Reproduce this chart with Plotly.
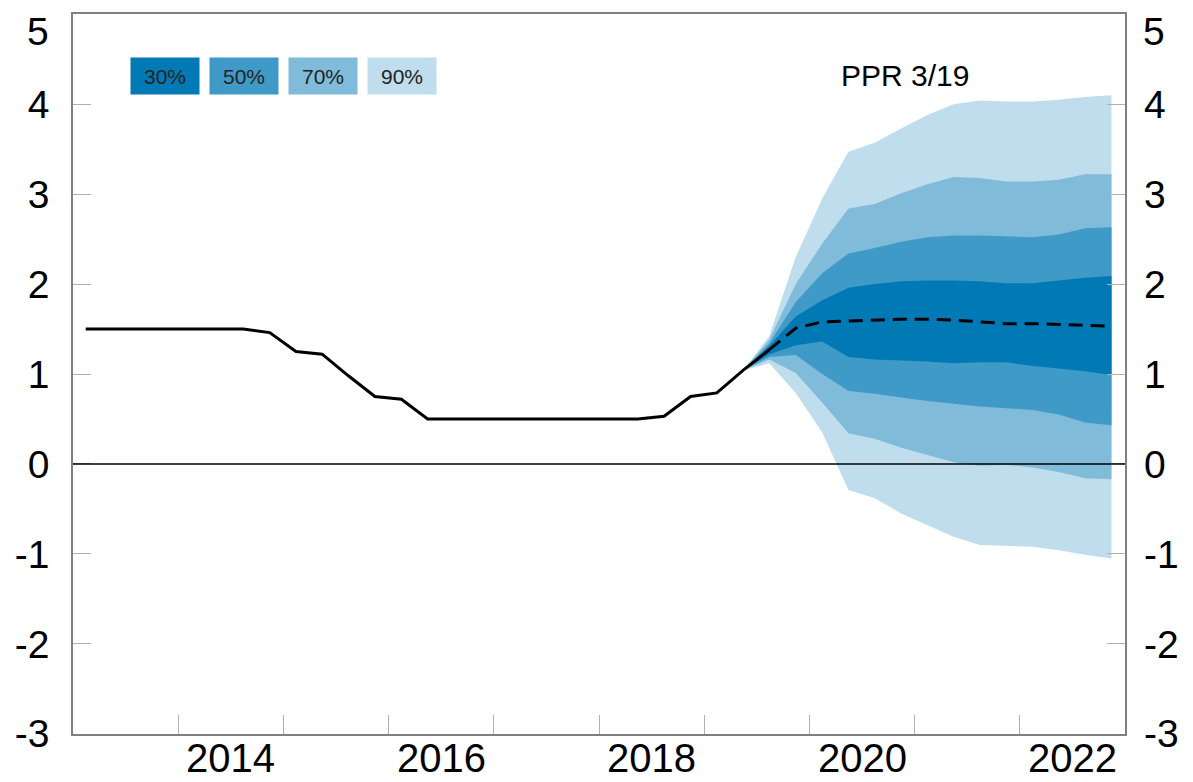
import pandas as pd
import plotly.graph_objects as go

# Quarterly periods (plotted at mid-quarter)
quarters = pd.period_range("2013Q1", "2022Q4", freq="Q")
qdates = [(p.start_time + (p.end_time - p.start_time) / 2).strftime("%Y-%m-%d") for p in quarters]

# Historical policy rate, 2013Q1 - 2019Q3
hist_rate = [1.5, 1.5, 1.5, 1.5, 1.5, 1.5, 1.5, 1.46, 1.25, 1.22, 0.98, 0.75, 0.72,
             0.5, 0.5, 0.5, 0.5, 0.5, 0.5, 0.5, 0.5, 0.5, 0.53, 0.75, 0.79, 1.04, 1.27]

# Forecast (dashed), 2019Q3 - 2022Q4
fc_rate = [1.27, 1.51, 1.58, 1.59, 1.60, 1.61, 1.61, 1.60, 1.58, 1.56, 1.56, 1.55, 1.54, 1.53]

# Fan bands, 2019Q2 - 2022Q4
p90_lo = [1.04, 1.12, 0.79, 0.35, -0.29, -0.38, -0.55, -0.68, -0.81, -0.90, -0.91, -0.92, -0.96, -1.01, -1.05]
p90_hi = [1.04, 1.42, 2.30, 2.95, 3.47, 3.57, 3.73, 3.88, 4.00, 4.04, 4.03, 4.03, 4.05, 4.08, 4.10]
p70_lo = [1.04, 1.16, 1.01, 0.68, 0.34, 0.28, 0.18, 0.10, 0.02, -0.02, -0.01, -0.04, -0.09, -0.16, -0.17]
p70_hi = [1.04, 1.38, 2.00, 2.45, 2.84, 2.89, 3.01, 3.11, 3.19, 3.18, 3.14, 3.14, 3.16, 3.22, 3.22]
p50_lo = [1.04, 1.19, 1.21, 1.00, 0.81, 0.78, 0.74, 0.70, 0.67, 0.64, 0.62, 0.60, 0.55, 0.46, 0.43]
p50_hi = [1.04, 1.34, 1.80, 2.12, 2.34, 2.40, 2.47, 2.52, 2.54, 2.54, 2.53, 2.52, 2.55, 2.62, 2.63]
p30_lo = [1.04, 1.22, 1.32, 1.36, 1.19, 1.16, 1.15, 1.14, 1.12, 1.13, 1.13, 1.09, 1.06, 1.03, 0.99]
p30_hi = [1.04, 1.31, 1.64, 1.82, 1.96, 2.00, 2.03, 2.04, 2.04, 2.03, 2.01, 2.01, 2.04, 2.07, 2.09]

band_labels = ["30%", "50%", "70%", "90%"]
band_colors = ["#0079b5", "#409ac8", "#80bcda", "#bfdded"]

year_ticks = [f"{y}-01-01" for y in range(2014, 2024)]
label_years = ["2014", "2016", "2018", "2020", "2022"]
label_pos = [f"{y}-07-02" for y in label_years]

y_ticks = [-3, -2, -1, 0, 1, 2, 3, 4, 5]
y_text = ["-3", "-2", "-1", "0", "1", "2", "3", "4", ""]
y_top_label = "5"

FONT = "Liberation Sans, Arial, sans-serif"

fig = go.Figure()

fan_x = qdates[25:]
bands = [(p90_lo, p90_hi, band_colors[3]), (p70_lo, p70_hi, band_colors[2]),
         (p50_lo, p50_hi, band_colors[1]), (p30_lo, p30_hi, band_colors[0])]
for lo, hi, col in bands:
    fig.add_trace(go.Scatter(x=fan_x, y=lo, mode="lines", line=dict(width=0, color=col),
                             showlegend=False, hoverinfo="skip"))
    fig.add_trace(go.Scatter(x=fan_x, y=hi, mode="lines", line=dict(width=0, color=col),
                             fill="tonexty", fillcolor=col, showlegend=False, hoverinfo="skip"))

fig.add_trace(go.Scatter(x=qdates[:len(hist_rate)], y=hist_rate, mode="lines",
                         line=dict(color="black", width=3), showlegend=False))
fig.add_trace(go.Scatter(x=qdates[26:], y=fc_rate, mode="lines",
                         line=dict(color="black", width=3, dash="14px,8px"), showlegend=False))

# zero line
fig.add_shape(type="line", xref="paper", yref="y", x0=0, x1=1, y0=0, y1=0,
              line=dict(color="black", width=1.5), layer="above")

# legend boxes
for i, (lab, col) in enumerate(zip(band_labels, band_colors)):
    fig.add_annotation(xref="paper", yref="paper", x=0.0879 + i * 0.0751, y=0.914,
                       text=lab, showarrow=False, bgcolor=col, width=66, height=34,
                       font=dict(family=FONT, size=21, color="#222222"),
                       xanchor="center", yanchor="middle")

fig.add_annotation(xref="paper", yref="paper", x=0.791, y=0.914, text="PPR 3/19",
                   showarrow=False, font=dict(family=FONT, size=30, color="black"),
                   xanchor="center", yanchor="middle")

# top "5" labels (shifted down inside the figure like the reference)
for xp, anchor, shift in [(0, "right", -22), (1, "left", 16)]:
    fig.add_annotation(xref="paper", yref="y", x=xp, y=5, text=y_top_label, showarrow=False,
                       xanchor=anchor, yanchor="middle", xshift=shift, yshift=-17,
                       font=dict(family=FONT, size=39, color="black"))

# year labels, centred in the year, kept inside the bottom edge
for pos, lab in zip(label_pos, label_years):
    fig.add_annotation(xref="x", yref="paper", x=pos, y=0, text=lab, showarrow=False,
                       xanchor="center", yanchor="bottom", yshift=-47, borderpad=0,
                       font=dict(family=FONT, size=40, color="black"))

fig.update_layout(
    width=1193, height=782,
    margin=dict(l=73, r=68, t=14, b=48, autoexpand=False),
    paper_bgcolor="white", plot_bgcolor="white",
    font=dict(family=FONT, color="black"),
    xaxis=dict(type="date", range=["2013-01-01", "2023-01-01"], tickvals=year_ticks,
               showticklabels=False, ticks="inside", ticklen=19, tickcolor="#b0b0b0",
               tickwidth=1, showgrid=False, zeroline=False, showline=True,
               linecolor="#808080", linewidth=1.5, mirror=True, automargin=False),
    yaxis=dict(range=[-3.002, 5.002], tickvals=y_ticks, ticktext=y_text, ticks="inside",
               ticklen=18, tickcolor="#b0b0b0", tickwidth=1, showgrid=False,
               zeroline=False, showline=True, linecolor="#808080", linewidth=1.5,
               mirror=True, automargin=False,
               tickfont=dict(family=FONT, size=39, color="black"), ticklabelstandoff=14),
    yaxis2=dict(range=[-3.002, 5.002], tickvals=y_ticks, ticktext=y_text, overlaying="y",
                side="right", ticks="inside", ticklen=18, tickcolor="#b0b0b0", tickwidth=1,
                showgrid=False, zeroline=False, showline=False, automargin=False,
                tickfont=dict(family=FONT, size=39, color="black"), ticklabelstandoff=18),
)
# dummy trace to activate the right-hand axis
fig.add_trace(go.Scatter(x=[qdates[0]], y=[None], yaxis="y2",
                         showlegend=False, hoverinfo="skip"))

fig.write_html("out.html", config={"displayModeBar": False},
               post_script="document.body.style.margin='0';")
